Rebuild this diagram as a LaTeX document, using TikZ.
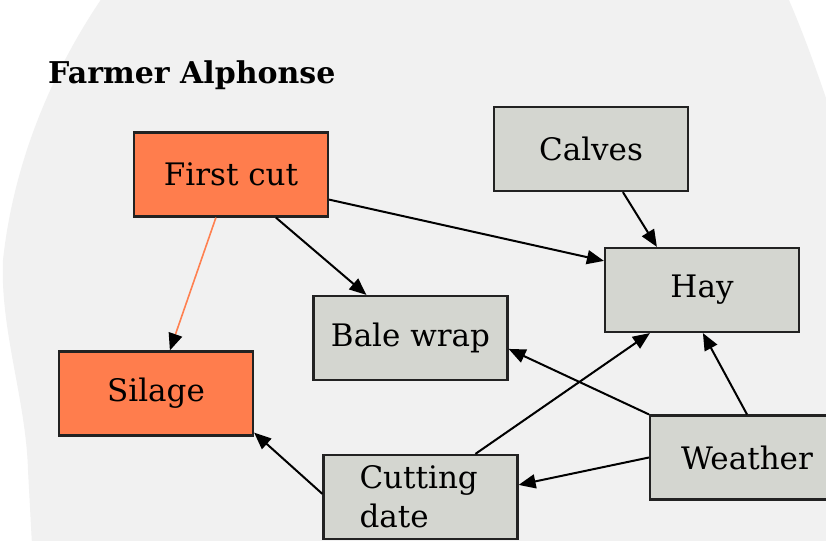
\documentclass[tikz,border=0pt]{standalone}
\usepackage{fontspec}
\setmainfont{DejaVu Serif}
\usetikzlibrary{arrows.meta,calc}
\definecolor{bgblob}{HTML}{F1F1F1}
\definecolor{orangebox}{HTML}{FF7D4D}
\definecolor{greybox}{HTML}{D4D6D0}
\definecolor{boxline}{HTML}{222222}
\definecolor{coralline}{HTML}{FF8050}
\tikzset{
  box/.style={draw=boxline, line width=2.2pt, minimum width=194pt, minimum height=84pt,
    inner sep=0pt, font=\fontsize{31}{39}\selectfont, text=black},
  hot/.style={box, fill=orangebox},
  cool/.style={box, fill=greybox},
  conn/.style={draw=black, line width=2pt, -{Triangle[length=17pt,width=14pt]}},
  coralconn/.style={draw=coralline, line width=1.6pt, -{Triangle[length=17pt,width=14pt,color=black]}},
  title/.style={font=\bfseries\fontsize{30}{36}\selectfont, inner sep=0pt, anchor=base west}
}
\begin{document}
\begin{tikzpicture}[x=1pt,y=-1pt]
\clip (0,0) rectangle (826,540);
\fill[white] (0,0) rectangle (826,540);
\fill[bgblob] (102,-2) .. controls (60,60) and (15,150) .. (3,260)
  .. controls (0,330) and (26,400) .. (28,470) -- (32,545) -- (830,545) -- (830,110)
  .. controls (815,65) and (800,25) .. (788,-2) -- cycle;

\node[title] (ttl) at (48,84) {Farmer Alphonse};

\node[hot]  (fc)  at (231,174.5) {First cut};
\node[cool] (cal) at (591,149) {Calves};
\node[cool] (hay) at (702,290) {Hay};
\node[cool] (bw)  at (410.5,338) {Bale wrap};
\node[hot]  (sil) at (156,393.5) {Silage};
\node[cool] (wea) at (747,457.5) {Weather};
\node[cool, text width=122pt, inner xsep=36pt, align=left] (cd) at (420.5,497) {Cutting\\date};

\draw[conn] ($(fc.south east)+(0,-18)$) -- ($(hay.north west)+(0,14)$);
\draw[conn] ($(fc.south west)+(143,0)$) -- ($(bw.north west)+(54,0)$);
\draw[coralconn] ($(fc.south west)+(83,0)$) -- ($(sil.north west)+(112,0)$);
\draw[conn] ($(cal.south west)+(130,0)$) -- ($(hay.north west)+(53,0)$);
\draw[conn] (wea.north) -- ($(hay.south west)+(99,0)$);
\draw[conn] (wea.north west) -- ($(bw.north east)+(0,54)$);
\draw[conn] (wea.west) -- ($(cd.north east)+(0,31)$);
\draw[conn] ($(cd.north west)+(153,0)$) -- ($(hay.south west)+(46,0)$);
\draw[conn] ($(cd.north west)+(0,40)$) -- ($(sil.south east)+(0,-4)$);
\end{tikzpicture}
\end{document}
